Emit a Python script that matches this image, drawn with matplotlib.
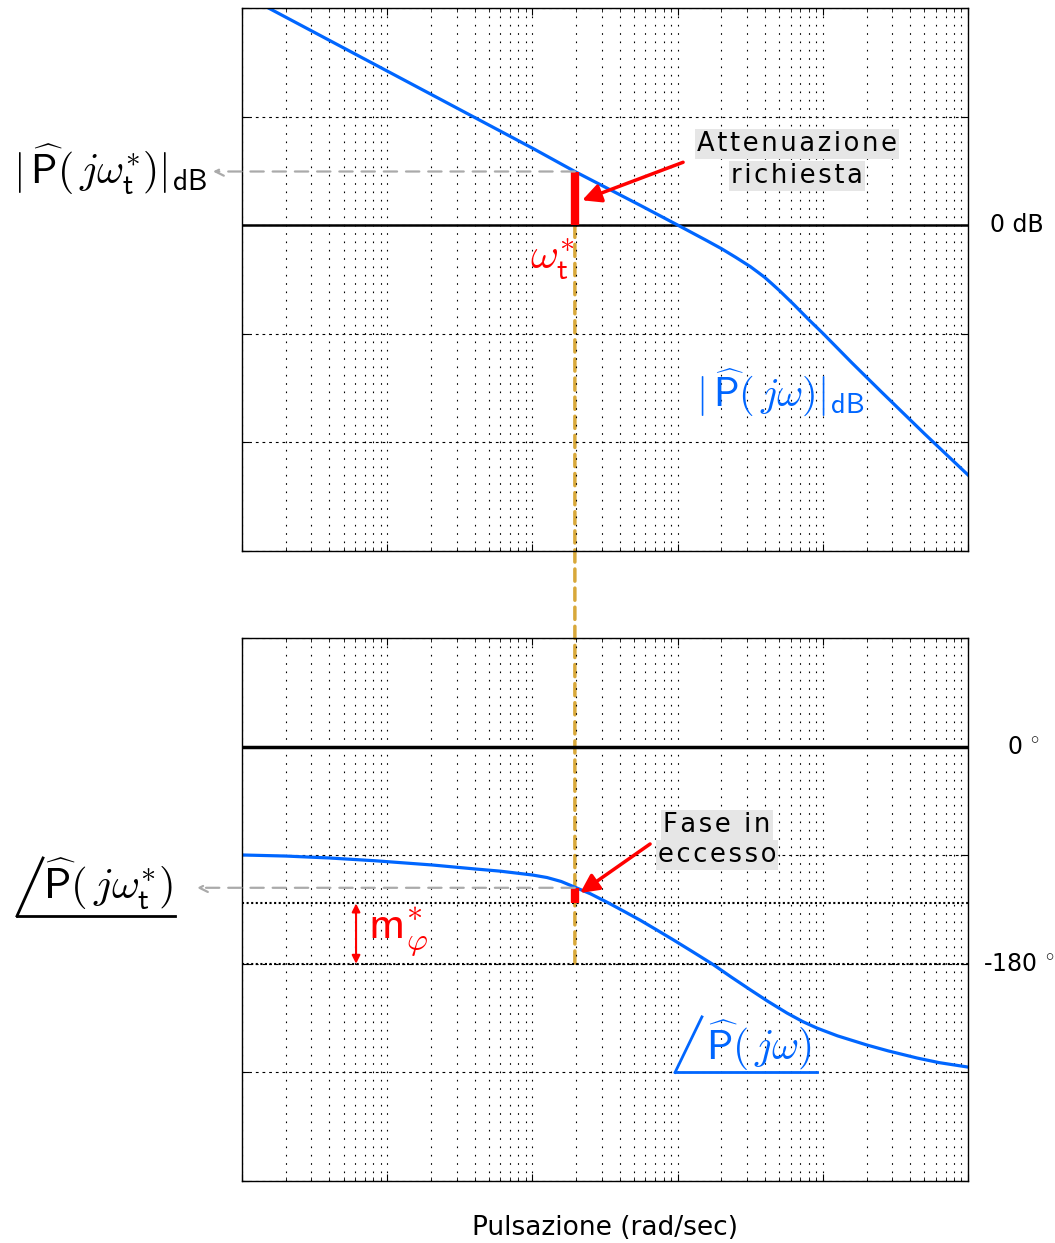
import numpy as np
import matplotlib
matplotlib.use("Agg")
import matplotlib.pyplot as plt
from matplotlib.patches import ConnectionPatch
from matplotlib.lines import Line2D

plt.rcParams['mathtext.fontset'] = 'cm'
plt.rcParams['font.family'] = ['DejaVu Sans']

# magnitude curve (rad/sec, dB)
w_mag = [0.01, 0.1, 1.0, 1.96, 5.5, 9.9, 15.8, 20.0, 25.1, 31.6, 35.5, 39.8, 44.7, 50.1,
         63.1, 79.4, 100, 158, 251, 501, 1000]
mag_db = [42.6, 28.4, 14.2, 9.9, 3.7, 0.1, -2.8, -4.3, -5.9, -7.6, -8.6, -9.6, -10.8, -12.0,
          -14.6, -17.3, -19.9, -25.3, -30.6, -38.4, -46.0]

# phase curve (rad/sec, deg)
w_ph = [0.01, 0.02, 0.04, 0.0824, 0.204, 0.403, 0.598, 1.0, 1.26, 1.58, 1.96, 2.51, 3.27,
        4.27, 5.51, 7.08, 9.29, 12.6, 17.5, 23.4, 31.6, 41.7, 56.6, 72.4, 91.2, 126, 201,
        282, 446, 631, 1000]
ph_deg = [-89.8, -90.7, -92.3, -94.6, -98.1, -101.4, -103.2, -106.4, -108.5, -111.8, -116.5,
          -122.0, -129.0, -136.5, -143.8, -151.5, -160.0, -169.8, -180.5, -191.0, -201.5,
          -211.0, -220.8, -227.8, -233.3, -239.7, -247.3, -252.2, -258.1, -261.9, -265.6]

w_t = 1.96        # omega*_t
mag_t = 9.9       # |P(j w_t)| dB
ph_t = -117.0     # phase at w_t
ph_req = -130     # -180 + m_phi

mag_ticks = [-60, -40, -20, 0, 20, 40]
ph_ticks = [-360, -270, -180, -90, 0, 90]

blue = '#0066ff'
gold = '#d8a83a'
gray = '#aaaaaa'
red = '#ff0000'

fig = plt.figure(figsize=(10.55, 12.43), dpi=100)
ax1 = fig.add_axes([0.2294, 0.5567, 0.6882, 0.4368])
ax2 = fig.add_axes([0.2294, 0.0499, 0.6882, 0.4368])


def style(ax, ticks):
    ax.set_xscale('log')
    ax.set_xlim(0.01, 1000)
    ax.set_ylim(ticks[0], ticks[-1])
    ax.set_yticks(ticks)
    ax.grid(True, which='both', axis='x', color='k', lw=0.8, ls=(0, (1.5, 6)))
    ax.grid(True, which='major', axis='y', color='k', lw=0.8, ls=(0, (2.5, 3.5)))
    ax.tick_params(which='both', direction='in', top=True, right=True,
                   labelbottom=False, labelleft=False)
    ax.tick_params(which='major', length=5)
    ax.tick_params(which='minor', length=3)
    for s in ax.spines.values():
        s.set_linewidth(1.0)
    ax.set_facecolor('none')
    ax.set_zorder(2)


style(ax1, mag_ticks)
style(ax2, ph_ticks)


def spaced(s):
    return '\u200a'.join(s)


box = dict(facecolor='#e6e6e6', edgecolor='none', pad=1.5)

# magnitude panel
ax1.axhline(0, color='k', lw=1.8)
ax1.plot(w_mag, mag_db, color=blue, lw=2.3)
ax1.plot([w_t, w_t], [0, mag_t], color=red, lw=6, solid_capstyle='butt')
ax1.annotate('', xy=(-0.04, mag_t), xycoords=('axes fraction', 'data'),
             xytext=(w_t, mag_t), textcoords='data',
             arrowprops=dict(arrowstyle='->', color=gray, ls=(0, (6, 4)), lw=1.6,
                             shrinkA=0, shrinkB=0, mutation_scale=15))
ax1.annotate('', xy=(2.2, 4.6), xytext=(10.9, 11.6),
             arrowprops=dict(arrowstyle='-|>', color=red, lw=2.5, mutation_scale=28,
                             shrinkA=0, shrinkB=0))
ax1.text(0.764, 0.749, spaced('Attenuazione'), transform=ax1.transAxes, ha='center',
         va='center', fontsize=18.5, bbox=box)
ax1.text(0.764, 0.690, spaced('richiesta'), transform=ax1.transAxes, ha='center',
         va='center', fontsize=18.5, bbox=box)
ax1.text(0.428, 0.538, r'$\omega^{*}_{\mathsf{t}}$', transform=ax1.transAxes, color=red,
         ha='center', va='center', fontsize=31)
ax1.text(0.741, 0.291, r'$|\,\widehat{\mathsf{P}}(\,j\omega)|_{\mathsf{dB}}$',
         transform=ax1.transAxes, color=blue, ha='center', va='center', fontsize=29)
ax1.text(1.0675, 0.6, '0 dB', transform=ax1.transAxes, ha='center', va='center', fontsize=17)

# phase panel
ax2.axhline(0, color='k', lw=2.5)
ax2.axhline(ph_req, color='k', lw=1.5, ls=(0, (1, 1.2)))
ax2.axhline(-180, color='k', lw=1.5, ls=(0, (1, 1.2)))
ax2.plot(w_ph, ph_deg, color=blue, lw=2.3)
ax2.plot([w_t, w_t], [ph_req, ph_t], color=red, lw=6, solid_capstyle='butt')
ax2.annotate('', xy=(-0.062, ph_t), xycoords=('axes fraction', 'data'),
             xytext=(w_t, ph_t), textcoords='data',
             arrowprops=dict(arrowstyle='->', color=gray, ls=(0, (6, 4)), lw=1.6,
                             shrinkA=0, shrinkB=0, mutation_scale=15))
ax2.annotate('', xy=(2.13, -121.3), xytext=(6.46, -80.7),
             arrowprops=dict(arrowstyle='-|>', color=red, lw=2.5, mutation_scale=28,
                             shrinkA=0, shrinkB=0))
ax2.annotate('', xy=(0.061, -180), xytext=(0.061, ph_req),
             arrowprops=dict(arrowstyle='<|-|>', color=red, lw=1.5, mutation_scale=12,
                             shrinkA=0, shrinkB=0))
ax2.text(0.1736, 0.462, r'$\mathsf{m}^{*}_{\varphi}$', transform=ax2.transAxes, color=red,
         ha='left', va='center', fontsize=33)
ax2.text(0.654, 0.656, spaced('Fase in'), transform=ax2.transAxes, ha='center',
         va='center', fontsize=18.5, bbox=box)
ax2.text(0.654, 0.600, spaced('eccesso'), transform=ax2.transAxes, ha='center',
         va='center', fontsize=18.5, bbox=box)
ax2.text(36.5, -248, r'$\widehat{\mathsf{P}}(\,j\omega)$', color=blue, ha='center',
         va='center', fontsize=30)
ax2.plot([9.6, 14.7], [-270, -224], color=blue, lw=2, clip_on=False)
ax2.plot([9.6, 91.2], [-270, -270], color=blue, lw=2, clip_on=False)
ax2.text(1.0537, 0.80, r'0 $^{\circ}$', transform=ax2.transAxes, ha='left', va='center',
         fontsize=17)
ax2.text(1.0207, 0.40, r'-180 $^{\circ}$', transform=ax2.transAxes, ha='left', va='center',
         fontsize=17)

# gold dashed line across both panels
con = ConnectionPatch(xyA=(w_t, 0), coordsA=ax1.transData, xyB=(w_t, -180),
                      coordsB=ax2.transData, color=gold, lw=2.5, ls=(0, (3.5, 2)), zorder=1)
fig.add_artist(con)

# left labels
fig.text(110 / 1055, 1 - 170 / 1243,
         r'$|\,\widehat{\mathsf{P}}(\,j\omega^{*}_{\mathsf{t}})|_{\mathsf{dB}}$',
         ha='center', va='center', fontsize=30)
fig.text(108 / 1055, 1 - 884 / 1243, r'$\widehat{\mathsf{P}}(\,j\omega^{*}_{\mathsf{t}})$',
         ha='center', va='center', fontsize=31)
fig.add_artist(Line2D([17 / 1055, 43 / 1055], [1 - 916 / 1243, 1 - 858 / 1243],
                      transform=fig.transFigure, color='k', lw=2))
fig.add_artist(Line2D([17 / 1055, 175 / 1055], [1 - 916 / 1243, 1 - 916 / 1243],
                      transform=fig.transFigure, color='k', lw=2))

fig.text(605 / 1055, 1 - 1228 / 1243, 'Pulsazione (rad/sec)', ha='center', va='center',
         fontsize=19)

fig.savefig('out.png', dpi=100)
